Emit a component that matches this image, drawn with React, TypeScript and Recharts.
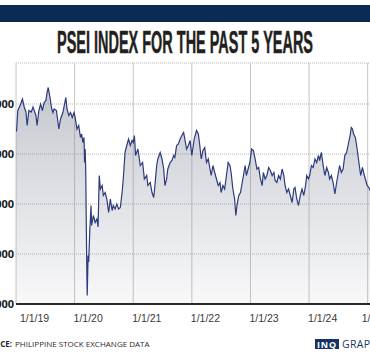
import React from "react";
import { Area, AreaChart, CartesianGrid, XAxis, YAxis } from "recharts";

// decimal year of each reading
const years = [
  2019.0, 2019.01, 2019.03, 2019.08, 2019.11, 2019.14, 2019.17, 2019.19, 2019.22, 2019.26,
  2019.29, 2019.34, 2019.36, 2019.39, 2019.42, 2019.45, 2019.48, 2019.51, 2019.53, 2019.55,
  2019.58, 2019.61, 2019.63, 2019.65, 2019.69, 2019.73, 2019.76, 2019.8, 2019.85, 2019.87,
  2019.9, 2019.93, 2019.96, 2019.99, 2020.01, 2020.04, 2020.07, 2020.1, 2020.12, 2020.14,
  2020.16, 2020.17, 2020.18, 2020.19, 2020.2, 2020.21, 2020.215, 2020.23, 2020.24, 2020.26,
  2020.28, 2020.29, 2020.32, 2020.35, 2020.38, 2020.4, 2020.42, 2020.44, 2020.47, 2020.49,
  2020.52, 2020.55, 2020.58, 2020.61, 2020.64, 2020.66, 2020.69, 2020.72, 2020.75, 2020.78,
  2020.81, 2020.83, 2020.86, 2020.89, 2020.92, 2020.95, 2020.98, 2021.0, 2021.02, 2021.04,
  2021.08, 2021.12, 2021.16, 2021.19, 2021.23, 2021.25, 2021.29, 2021.32, 2021.35, 2021.37,
  2021.4, 2021.42, 2021.46, 2021.49, 2021.52, 2021.54, 2021.57, 2021.59, 2021.63, 2021.66,
  2021.69, 2021.71, 2021.74, 2021.77, 2021.8, 2021.83, 2021.86, 2021.88, 2021.91, 2021.94,
  2021.97, 2022.0, 2022.04, 2022.08, 2022.11, 2022.13, 2022.16, 2022.19, 2022.22, 2022.25,
  2022.28, 2022.31, 2022.33, 2022.36, 2022.39, 2022.42, 2022.45, 2022.48, 2022.5, 2022.53,
  2022.56, 2022.59, 2022.62, 2022.65, 2022.67, 2022.7, 2022.73, 2022.75, 2022.77, 2022.8,
  2022.83, 2022.86, 2022.88, 2022.91, 2022.93, 2022.96, 2022.99, 2023.02, 2023.05, 2023.08,
  2023.11, 2023.14, 2023.17, 2023.2, 2023.22, 2023.25, 2023.28, 2023.31, 2023.34, 2023.37,
  2023.4, 2023.42, 2023.45, 2023.48, 2023.51, 2023.54, 2023.57, 2023.59, 2023.62, 2023.65,
  2023.68, 2023.71, 2023.74, 2023.76, 2023.79, 2023.82, 2023.85, 2023.88, 2023.91, 2023.94,
  2023.96, 2023.99, 2024.01, 2024.04, 2024.07, 2024.1, 2024.13, 2024.16, 2024.18, 2024.21,
  2024.24, 2024.27, 2024.3, 2024.33, 2024.35, 2024.38, 2024.41, 2024.44, 2024.47, 2024.5,
  2024.52, 2024.55, 2024.58, 2024.61, 2024.64, 2024.67, 2024.7, 2024.72, 2024.74, 2024.76,
  2024.79, 2024.82, 2024.85, 2024.88, 2024.91, 2024.93, 2024.96, 2024.99, 2025.02, 2025.05,
];

const psei = [
  7450, 7466, 7866, 8000, 8100, 7940, 7840, 7570, 7870, 7840,
  7940, 7770, 7570, 7870, 8000, 7870, 8030, 8070, 8230, 8330,
  8130, 7900, 7830, 7900, 7870, 7500, 7700, 7830, 8130, 7900,
  7770, 7830, 7730, 7830, 7730, 7500, 7570, 7330, 7400, 7230,
  7330, 6830, 7100, 6640, 5500, 4500, 4170, 4970, 4840, 5500,
  5970, 5570, 5770, 5630, 5700, 5540, 6570, 6300, 6370, 6170,
  6230, 6100, 5830, 6100, 5870, 5970, 5900, 6000, 5900, 5930,
  6230, 6500, 7030, 7170, 7300, 7170, 7270, 7230, 7370, 6970,
  7100, 6770, 6830, 6500, 6570, 6370, 6430, 6230, 6130, 6370,
  6770, 6900, 7030, 6900, 6700, 6370, 6500, 6700, 6830, 6870,
  6970, 6930, 7170, 7200, 7300, 7370, 7430, 7300, 7100, 7170,
  7270, 6970, 7300, 7470, 7400, 7230, 6900, 7070, 7130, 6830,
  6900, 6700, 6570, 6770, 6630, 6500, 6370, 6430, 6230, 6370,
  6300, 6570, 6830, 6770, 6630, 6300, 6100, 5770, 5970, 6170,
  6230, 6430, 6570, 6770, 6570, 6700, 6830, 7100, 7070, 6900,
  6700, 6730, 6500, 6370, 6630, 6500, 6570, 6730, 6670, 6570,
  6630, 6470, 6430, 6570, 6500, 6700, 6570, 6370, 6230, 6300,
  6170, 6030, 6300, 6330, 6100, 5970, 6170, 6300, 6170, 6370,
  6570, 6500, 6570, 6770, 6730, 6900, 6830, 6970, 6870, 7030,
  6770, 6570, 6730, 6630, 6500, 6570, 6430, 6200, 6430, 6630,
  6770, 6630, 6700, 6970, 7030, 7200, 7370, 7530, 7500, 7400,
  7330, 7100, 6830, 6570, 6730, 6630, 6500, 6370, 6330, 6250,
];

const yearTicks = [2019, 2020, 2021, 2022, 2023, 2024, 2025];
const yearLabels = ["1/1/19", "1/1/20", "1/1/21", "1/1/22", "1/1/23", "1/1/24", "1/1/25"];
const valueTicks = [4000, 5000, 6000, 7000, 8000];

const data = years.map((t, i) => ({ t, v: psei[i] }));

const navy = "#0b2b55";

function YTick({ x, y, payload }: any) {
  return (
    <text
      x={x}
      y={y}
      dy={4}
      textAnchor="end"
      fontFamily="Open Sans"
      fontWeight={700}
      fontSize={11}
      fill="#1c1c1c"
    >
      {payload.value.toLocaleString("en-US")}
    </text>
  );
}

function XTick({ x, y, payload, index }: any) {
  const i = yearTicks.indexOf(payload.value);
  return (
    <text
      x={x + (index === 0 ? 4 : -1) - (i === 6 ? 5 : 0)}
      y={y}
      dy={18}
      textAnchor="start"
      fontFamily="Liberation Sans"
      fontSize={10.5}
      fill="#3a3a3a"
    >
      {yearLabels[i]}
    </text>
  );
}

export default function App() {
  return (
    <div
      style={{
        position: "absolute",
        left: 0,
        top: 0,
        width: 370,
        height: 355,
        overflow: "hidden",
        background: "#fff",
      }}
    >
      <div style={{ position: "absolute", left: 0, top: 0 }}>
        <AreaChart
          width={397}
          height={355}
          data={data}
          margin={{ top: 63, right: 0, bottom: 21, left: 0 }}
        >
          <defs>
            <linearGradient id="pseiFill" x1="0" y1="0" x2="0" y2="1">
              <stop offset="0%" stopColor="#7d8394" stopOpacity={0.45} />
              <stop offset="100%" stopColor="#8a8fa0" stopOpacity={0.06} />
            </linearGradient>
          </defs>
          <CartesianGrid vertical={false} stroke="#b5b5b5" strokeDasharray="1 1" />
          <CartesianGrid horizontal={false} stroke="#c4c4c4" />
          <XAxis
            type="number"
            dataKey="t"
            domain={[2019, 2025.5]}
            ticks={yearTicks}
            allowDataOverflow
            height={30}
            tickLine={false}
            tickSize={0}
            tickMargin={0}
            axisLine={{ stroke: "#2a2a2a", strokeWidth: 2 }}
            tick={<XTick />}
            interval={0}
          />
          <YAxis
            domain={[4000, 8820]}
            ticks={valueTicks}
            allowDataOverflow
            width={16}
            axisLine={false}
            tickLine={false}
            tickSize={2}
            tickMargin={0}
            tick={<YTick />}
            interval={0}
          />
          <Area
            type="linear"
            dataKey="v"
            stroke="#2d3a7c"
            strokeWidth={1.2}
            fill="url(#pseiFill)"
            fillOpacity={1}
            isAnimationActive={false}
            dot={false}
            activeDot={false}
          />
        </AreaChart>
      </div>
      <svg
        width={370}
        height={355}
        style={{ position: "absolute", left: 0, top: 0, pointerEvents: "none" }}
      >
        <rect x={0} y={5} width={370} height={17} fill={navy} />
        <text
          x={57}
          y={53}
          textLength={256}
          lengthAdjust="spacingAndGlyphs"
          fontFamily="Liberation Sans"
          fontWeight={700}
          fontSize={32}
          fill="#231f20"
          stroke="#231f20"
          strokeWidth={0.5}
        >
          PSEI INDEX FOR THE PAST 5 YEARS
        </text>
        <text
          x={12}
          y={347}
          textAnchor="end"
          fontFamily="Open Sans"
          fontWeight={700}
          fontSize={8}
          fill="#2a2a2a"
        >
          SOURCE:
        </text>
        <text x={15} y={347} fontFamily="Open Sans" fontSize={8} fill="#2a2a2a">
          PHILIPPINE STOCK EXCHANGE DATA
        </text>
        <rect x={315} y={339} width={24} height={10} fill="#15345f" />
        <text
          x={327}
          y={347.5}
          textAnchor="middle"
          fontFamily="Open Sans"
          fontWeight={700}
          fontSize={9}
          letterSpacing={0.8}
          fill="#fff"
        >
          INQ
        </text>
        <text
          x={342}
          y={348}
          fontFamily="Open Sans"
          fontSize={10.5}
          letterSpacing={0.3}
          fill="#1d3a66"
        >
          GRAPHICS
        </text>
      </svg>
    </div>
  );
}
